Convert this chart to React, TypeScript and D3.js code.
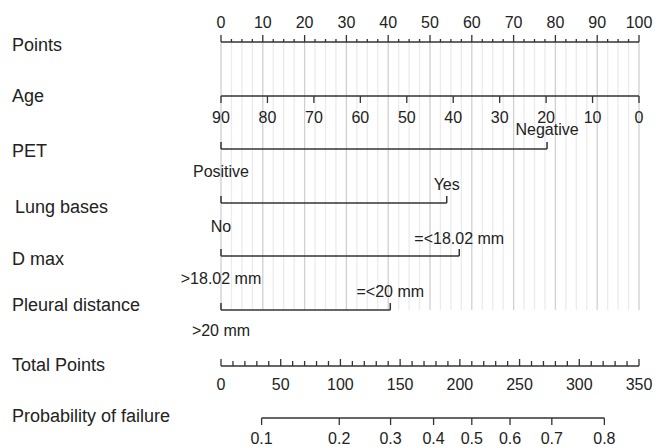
import React from "react";
import { scaleLinear, range } from "d3";

// points axis
const pointTicks = [0, 10, 20, 30, 40, 50, 60, 70, 80, 90, 100];
// age axis (age 90 -> 0 points, age 0 -> 100 points)
const ageTicks = [90, 80, 70, 60, 50, 40, 30, 20, 10, 0];

// categorical predictors: [low level, high level] and their points
const petLevels = ["Positive", "Negative"];
const petPoints = [0, 78];
const lungLevels = ["No", "Yes"];
const lungPoints = [0, 54];
const dmaxLevels = [">18.02 mm", "=<18.02 mm"];
const dmaxPoints = [0, 57];
const pleuralLevels = [">20 mm", "=<20 mm"];
const pleuralPoints = [0, 40.5];

const totalTicks = [0, 50, 100, 150, 200, 250, 300, 350];
const probTicks = [0.1, 0.2, 0.3, 0.4, 0.5, 0.6, 0.7, 0.8];
const probTotals = [34, 99, 142, 178, 210, 242, 277, 321];

const W = 656;
const H = 447;
const x0 = 221;
const x1 = 639;
const ink = "#222";
const lineCol = "#333";
const font = "'Liberation Sans', Arial, Helvetica, sans-serif";

export default function App() {
  const xPoints = scaleLinear().domain([0, 100]).range([x0, x1]);
  const xAge = scaleLinear().domain([90, 0]).range([x0, x1]);
  const xTotal = scaleLinear().domain([0, 350]).range([x0, x1]);

  const gridTop = 42;
  const gridBottom = 310;

  const rowLabel = (txt: string, y: number, x = 12) => (
    <text x={x} y={y} fontSize={18} fill={ink}>{txt}</text>
  );

  const catRow = (levels: string[], pts: number[], y: number, topY: number, botY: number) => {
    const xa = xPoints(pts[0]);
    const xb = xPoints(pts[1]);
    return (
      <g>
        <line x1={xa} x2={xb} y1={y} y2={y} stroke={lineCol} strokeWidth={1.5} />
        <line x1={xa} x2={xa} y1={y} y2={y - 7} stroke={lineCol} strokeWidth={1.5} />
        <line x1={xb} x2={xb} y1={y} y2={y - 7} stroke={lineCol} strokeWidth={1.5} />
        <text x={xb} y={topY} fontSize={16} textAnchor="middle" fill={ink}>{levels[1]}</text>
        <text x={xa} y={botY} fontSize={16} textAnchor="middle" fill={ink}>{levels[0]}</text>
      </g>
    );
  };

  const minorPts = range(0, 100.01, 2.5);
  const minorTotal = range(0, 350.01, 10);

  return (
    <svg width={W} height={H} style={{ position: "absolute", left: 0, top: 0, background: "#fff" }} fontFamily={font}>
      {/* vertical reference grid */}
      {minorPts.map((p) => (
        <line key={"g" + p} x1={xPoints(p)} x2={xPoints(p)} y1={gridTop} y2={gridBottom}
          stroke={p % 10 === 0 ? "#d0d0d0" : "#ebebeb"} strokeWidth={1.3} />
      ))}

      {/* Points */}
      {rowLabel("Points", 51)}
      <line x1={x0} x2={x1} y1={42} y2={42} stroke={lineCol} strokeWidth={1.5} />
      {minorPts.map((p) => (
        <line key={"pt" + p} x1={xPoints(p)} x2={xPoints(p)} y1={42} y2={p % 10 === 0 ? 35 : 39}
          stroke={lineCol} strokeWidth={1.3} />
      ))}
      {pointTicks.map((p) => (
        <text key={"pl" + p} x={xPoints(p)} y={28} fontSize={16} textAnchor="middle" fill={ink}>{p}</text>
      ))}

      {/* Age */}
      {rowLabel("Age", 102)}
      <line x1={x0} x2={x1} y1={96} y2={96} stroke={lineCol} strokeWidth={1.5} />
      {ageTicks.map((a) => (
        <g key={"a" + a}>
          <line x1={xAge(a)} x2={xAge(a)} y1={96} y2={103} stroke={lineCol} strokeWidth={1.3} />
          <text x={xAge(a)} y={123} fontSize={16} textAnchor="middle" fill={ink}>{a}</text>
        </g>
      ))}

      {rowLabel("PET", 157)}
      {catRow(petLevels, petPoints, 149, 135, 177)}

      {rowLabel("Lung bases", 213, 15)}
      {catRow(lungLevels, lungPoints, 203, 190, 232)}

      {rowLabel("D max", 265)}
      {catRow(dmaxLevels, dmaxPoints, 256, 244, 284)}

      {rowLabel("Pleural distance", 311)}
      {catRow(pleuralLevels, pleuralPoints, 310, 297, 336)}

      {/* Total Points */}
      {rowLabel("Total Points", 371)}
      <line x1={x0} x2={x1} y1={366} y2={366} stroke={lineCol} strokeWidth={1.5} />
      {minorTotal.map((t) => (
        <line key={"tt" + t} x1={xTotal(t)} x2={xTotal(t)} y1={366} y2={t % 50 === 0 ? 359 : 361}
          stroke={lineCol} strokeWidth={1.3} />
      ))}
      {totalTicks.map((t) => (
        <text key={"tl" + t} x={xTotal(t)} y={390} fontSize={16} textAnchor="middle" fill={ink}>{t}</text>
      ))}

      {/* Probability of failure */}
      {rowLabel("Probability of failure", 422)}
      <line x1={xTotal(probTotals[0])} x2={xTotal(probTotals[probTotals.length - 1])} y1={418} y2={418}
        stroke={lineCol} strokeWidth={1.5} />
      {probTicks.map((p, i) => (
        <g key={"p" + p}>
          <line x1={xTotal(probTotals[i])} x2={xTotal(probTotals[i])} y1={418} y2={425} stroke={lineCol} strokeWidth={1.3} />
          <text x={xTotal(probTotals[i])} y={444} fontSize={16} textAnchor="middle" fill={ink}>{p}</text>
        </g>
      ))}
    </svg>
  );
}
